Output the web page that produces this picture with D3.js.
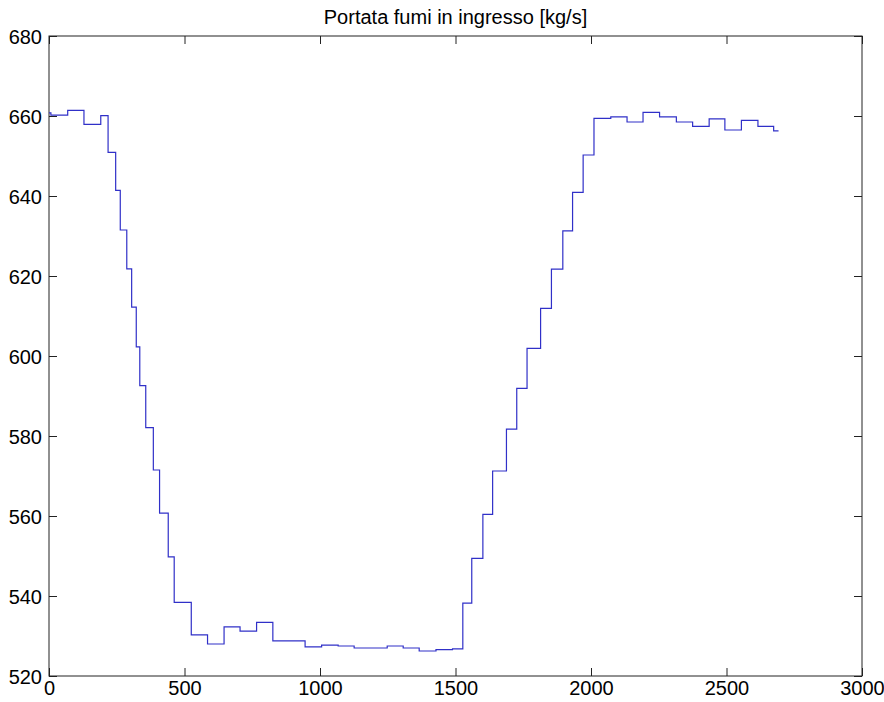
<!DOCTYPE html>
<html>
<head>
<meta charset="utf-8">
<script src="https://cdn.jsdelivr.net/npm/d3@7"></script>
<style>
	body { margin: 0; background: #fff; }
	svg { display: block; }
	.axis text { font-family: "Liberation Sans", Arial, sans-serif; font-size: 20px; fill: #000; }
	.title { font-family: "Liberation Sans", Arial, sans-serif; font-size: 20px; fill: #000; }
</style>
</head>
<body>
<svg width="884" height="702"></svg>
<script>
// step times [s] and values [kg/s]
let times = [0, 7, 69, 129, 191, 218, 246, 263, 287, 305, 322, 335, 357, 385, 408, 440, 462,
	525, 585, 646, 705, 766, 826, 945, 1006, 1067, 1126, 1248, 1307, 1366, 1428, 1489,
	1527, 1560, 1601, 1637, 1688, 1726, 1764, 1814, 1854, 1896, 1932, 1971, 2011,
	2073, 2133, 2192, 2253, 2315, 2375, 2436, 2494, 2555, 2616, 2674, 2692];
let values = [660.8, 660.2, 661.4, 657.9, 660.1, 650.9, 641.4, 631.5, 621.8, 612.2, 602.3, 592.6, 582.1, 571.5, 560.7, 549.8, 538.4,
	530.3, 528.0, 532.3, 531.2, 533.4, 528.8, 527.3, 527.7, 527.5, 527.0, 527.5, 527.0, 526.25, 526.6, 526.8,
	538.2, 549.4, 560.4, 571.25, 581.7, 591.9, 601.9, 611.9, 621.7, 631.3, 640.9, 650.25, 659.4,
	659.8, 658.5, 660.9, 659.8, 658.5, 657.4, 659.3, 656.5, 658.9, 657.4, 656.3, 656.3];
let xticks = [0, 500, 1000, 1500, 2000, 2500, 3000];
let yticks = [520, 540, 560, 580, 600, 620, 640, 660, 680];
let title = "Portata fumi in ingresso [kg/s]";

let data = times.map(function(t, i) { return {t: t, v: values[i]}; });

let svg = d3.select("svg");
let margin = {top: 36, right: 22, bottom: 26, left: 49};
let width = 884 - margin.left - margin.right;
let height = 702 - margin.top - margin.bottom;
let canvas = svg.append("g").attr("transform", "translate(" + margin.left + "," + margin.top + ")");

let xscale = d3.scaleLinear().domain([0, 3000]).range([0, width]);
let yscale = d3.scaleLinear().domain([520, 680]).range([height, 0]);

let tick = 8;

// box
canvas.append("rect")
	.attr("width", width)
	.attr("height", height)
	.attr("fill", "none")
	.attr("stroke", "#222")
	.attr("stroke-width", 1);

// bottom axis, ticks inward
let xaxis = d3.axisBottom(xscale).tickValues(xticks).tickSize(-tick).tickPadding(5).tickFormat(d3.format("d"));
let gx = canvas.append("g").attr("class", "axis").attr("transform", "translate(0," + height + ")").call(xaxis);
// left axis, ticks inward
let yaxis = d3.axisLeft(yscale).tickValues(yticks).tickSize(-tick).tickPadding(7).tickFormat(d3.format("d"));
let gy = canvas.append("g").attr("class", "axis").call(yaxis);
// top and right: ticks only
let gt = canvas.append("g").attr("class", "axis").call(d3.axisTop(xscale).tickValues(xticks).tickSize(-tick).tickFormat(""));
let gr = canvas.append("g").attr("class", "axis").attr("transform", "translate(" + width + ",0)")
	.call(d3.axisRight(yscale).tickValues(yticks).tickSize(-tick).tickFormat(""));

[gx, gy, gt, gr].forEach(function(g) {
	g.select(".domain").remove();
	g.selectAll(".tick line").attr("stroke", "#222");
});
gy.selectAll(".tick text").attr("dy", "0.35em");

// step line
let line = d3.line()
	.curve(d3.curveStepAfter)
	.x(function(d) { return xscale(d.t); })
	.y(function(d) { return yscale(d.v); });

canvas.append("path")
	.datum(data)
	.attr("d", line)
	.attr("fill", "none")
	.attr("stroke", "#3030c8")
	.attr("stroke-width", 1.2);

// title
svg.append("text")
	.attr("class", "title")
	.attr("x", margin.left + width / 2)
	.attr("y", 24)
	.attr("text-anchor", "middle")
	.text(title);
</script>
</body>
</html>
